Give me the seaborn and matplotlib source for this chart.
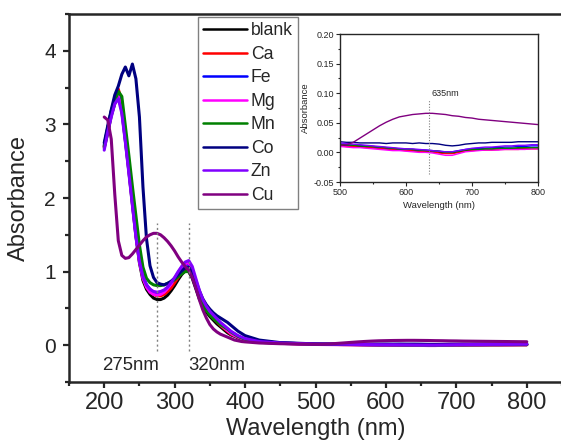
import matplotlib
matplotlib.use("Agg")
import matplotlib.pyplot as plt
from matplotlib.ticker import MultipleLocator, FormatStrFormatter
import seaborn as sns
import pandas as pd

# ---------------- data ----------------
names = ["blank", "Ca", "Fe", "Mg", "Mn", "Co", "Zn", "Cu"]
colors = ["#000000", "#FF0000", "#0000FF", "#FF00FF", "#008000", "#000080", "#8000FF", "#800080"]

wl_uv = list(range(200, 405, 5)) + [420, 450]
wl_vis = list(range(500, 810, 10))

uv_blank = [2.68, 2.88, 3.12, 3.28, 3.40, 3.18, 2.78, 2.36, 1.92, 1.48, 1.12, 0.88, 0.76, 0.69, 0.64, 0.62, 0.62, 0.64, 0.68, 0.74, 0.81, 0.89, 0.96, 1.01, 1.00, 0.91, 0.77, 0.63, 0.53, 0.45, 0.39, 0.34, 0.29, 0.25, 0.21, 0.17, 0.14, 0.12, 0.10, 0.08, 0.07, 0.04, 0.025]
uv_ca = [2.70, 2.92, 3.15, 3.30, 3.48, 3.30, 2.85, 2.42, 1.98, 1.52, 1.15, 0.92, 0.80, 0.73, 0.69, 0.67, 0.67, 0.69, 0.73, 0.78, 0.85, 0.92, 0.99, 1.04, 1.04, 0.95, 0.81, 0.67, 0.56, 0.48, 0.42, 0.37, 0.32, 0.27, 0.23, 0.19, 0.15, 0.13, 0.11, 0.09, 0.075, 0.045, 0.028]
uv_fe = [2.72, 2.95, 3.18, 3.35, 3.42, 3.25, 2.82, 2.40, 1.96, 1.52, 1.16, 0.94, 0.82, 0.76, 0.72, 0.71, 0.72, 0.74, 0.78, 0.84, 0.91, 0.98, 1.05, 1.10, 1.10, 1.01, 0.86, 0.71, 0.59, 0.51, 0.45, 0.40, 0.35, 0.30, 0.26, 0.22, 0.18, 0.15, 0.12, 0.10, 0.085, 0.05, 0.03]
uv_mg = [2.70, 2.92, 3.14, 3.30, 3.38, 3.22, 2.80, 2.38, 1.94, 1.50, 1.14, 0.91, 0.79, 0.72, 0.69, 0.68, 0.69, 0.72, 0.77, 0.83, 0.91, 0.99, 1.06, 1.11, 1.12, 1.03, 0.87, 0.71, 0.59, 0.50, 0.44, 0.38, 0.33, 0.28, 0.24, 0.20, 0.16, 0.13, 0.11, 0.09, 0.075, 0.045, 0.025]
uv_mn = [2.70, 2.95, 3.18, 3.30, 3.45, 3.38, 2.98, 2.58, 2.16, 1.76, 1.36, 1.06, 0.91, 0.85, 0.82, 0.81, 0.81, 0.82, 0.84, 0.86, 0.89, 0.93, 0.97, 1.00, 1.00, 0.93, 0.80, 0.66, 0.55, 0.47, 0.41, 0.36, 0.32, 0.28, 0.25, 0.22, 0.18, 0.15, 0.12, 0.10, 0.08, 0.05, 0.03]
uv_co = [2.75, 2.98, 3.20, 3.40, 3.52, 3.68, 3.78, 3.66, 3.82, 3.62, 3.10, 2.15, 1.45, 1.08, 0.92, 0.85, 0.83, 0.82, 0.84, 0.87, 0.91, 0.96, 1.01, 1.05, 1.06, 1.00, 0.88, 0.74, 0.63, 0.55, 0.49, 0.44, 0.40, 0.37, 0.34, 0.31, 0.27, 0.23, 0.19, 0.16, 0.13, 0.07, 0.035]
uv_zn = [2.65, 2.90, 3.10, 3.28, 3.35, 3.15, 2.76, 2.34, 1.90, 1.48, 1.14, 0.93, 0.82, 0.76, 0.73, 0.72, 0.73, 0.75, 0.79, 0.85, 0.92, 1.00, 1.07, 1.13, 1.15, 1.07, 0.91, 0.75, 0.62, 0.53, 0.46, 0.41, 0.36, 0.31, 0.27, 0.23, 0.19, 0.16, 0.13, 0.11, 0.09, 0.05, 0.03]
uv_cu = [3.10, 3.06, 2.80, 2.05, 1.42, 1.22, 1.18, 1.19, 1.24, 1.30, 1.36, 1.42, 1.47, 1.50, 1.52, 1.52, 1.50, 1.46, 1.41, 1.35, 1.28, 1.20, 1.13, 1.07, 1.02, 0.92, 0.78, 0.62, 0.48, 0.37, 0.28, 0.22, 0.18, 0.15, 0.13, 0.11, 0.09, 0.07, 0.06, 0.05, 0.045, 0.03, 0.02]

vis_blank = [0.012, 0.011, 0.010, 0.010, 0.009, 0.008, 0.007, 0.006, 0.005, 0.004, 0.004, 0.003, 0.002, 0.002, 0.001, 0.000, -0.001, -0.001, 0.001, 0.003, 0.004, 0.004, 0.005, 0.005, 0.005, 0.006, 0.006, 0.006, 0.006, 0.007, 0.007]
vis_ca = [0.011, 0.010, 0.010, 0.009, 0.008, 0.008, 0.007, 0.006, 0.005, 0.004, 0.003, 0.003, 0.002, 0.001, 0.001, -0.001, -0.002, -0.002, 0.000, 0.002, 0.003, 0.004, 0.004, 0.004, 0.005, 0.005, 0.005, 0.005, 0.006, 0.006, 0.006]
vis_fe = [0.014, 0.013, 0.012, 0.012, 0.011, 0.010, 0.009, 0.008, 0.007, 0.006, 0.006, 0.005, 0.004, 0.004, 0.003, 0.002, 0.001, 0.001, 0.003, 0.005, 0.006, 0.007, 0.007, 0.008, 0.008, 0.009, 0.009, 0.010, 0.010, 0.011, 0.011]
vis_mg = [0.010, 0.009, 0.008, 0.008, 0.007, 0.006, 0.005, 0.004, 0.003, 0.003, 0.002, 0.001, 0.000, 0.000, -0.001, -0.003, -0.005, -0.005, -0.002, 0.001, 0.002, 0.003, 0.004, 0.004, 0.004, 0.005, 0.005, 0.005, 0.005, 0.006, 0.006]
vis_mn = [0.014, 0.013, 0.012, 0.011, 0.010, 0.010, 0.009, 0.008, 0.007, 0.006, 0.006, 0.005, 0.004, 0.003, 0.003, 0.002, 0.000, 0.000, 0.002, 0.004, 0.005, 0.005, 0.006, 0.006, 0.007, 0.007, 0.007, 0.008, 0.008, 0.008, 0.008]
vis_co = [0.018, 0.017, 0.017, 0.016, 0.016, 0.016, 0.016, 0.015, 0.016, 0.016, 0.016, 0.015, 0.016, 0.015, 0.015, 0.014, 0.012, 0.011, 0.012, 0.014, 0.015, 0.016, 0.016, 0.017, 0.017, 0.017, 0.017, 0.018, 0.018, 0.018, 0.018]
vis_zn = [0.016, 0.015, 0.014, 0.013, 0.012, 0.011, 0.010, 0.009, 0.008, 0.007, 0.006, 0.006, 0.005, 0.004, 0.003, 0.002, 0.001, 0.001, 0.003, 0.005, 0.007, 0.008, 0.009, 0.009, 0.010, 0.011, 0.011, 0.012, 0.012, 0.013, 0.013]
vis_cu = [0.012, 0.013, 0.017, 0.024, 0.031, 0.038, 0.045, 0.051, 0.056, 0.060, 0.062, 0.064, 0.065, 0.066, 0.066, 0.065, 0.064, 0.062, 0.061, 0.059, 0.058, 0.056, 0.055, 0.054, 0.053, 0.052, 0.051, 0.050, 0.049, 0.048, 0.047]

uv = [uv_blank, uv_ca, uv_fe, uv_mg, uv_mn, uv_co, uv_zn, uv_cu]
vis = [vis_blank, vis_ca, vis_fe, vis_mg, vis_mn, vis_co, vis_zn, vis_cu]

peak_main = [275, 320]
peak_labels = ["275nm", "320nm"]
peak_inset = 635
peak_inset_label = "635nm"

# ---------------- build table ----------------
rows = []
for n, u, v in zip(names, uv, vis):
    assert len(u) == len(wl_uv) and len(v) == len(wl_vis), n
    for w, a in zip(wl_uv + wl_vis, u + v):
        rows.append((n, w, a))
df = pd.DataFrame(rows, columns=["series", "wl", "A"])
palette = dict(zip(names, colors))

# ---------------- style ----------------
sns.set_style("ticks")
plt.rcParams["font.family"] = ["Liberation Sans", "DejaVu Sans"]

fig = plt.figure(figsize=(5.61, 4.46), dpi=100)
ax = fig.add_axes([69 / 561, 1 - 382 / 446, (562 - 69) / 561, (382 - 14) / 446])

sns.lineplot(data=df, x="wl", y="A", hue="series", hue_order=names, palette=palette,
             estimator=None, sort=False, lw=2.2, ax=ax)

ax.set_xlim(150, 850)
ax.set_ylim(-0.5, 4.5)
ax.xaxis.set_major_locator(MultipleLocator(100))
ax.xaxis.set_minor_locator(MultipleLocator(50))
ax.yaxis.set_major_locator(MultipleLocator(1))
ax.yaxis.set_minor_locator(MultipleLocator(0.5))
ax.tick_params(which="major", direction="out", length=4.5, width=1.6)
ax.tick_params(which="minor", direction="out", length=3, width=1.6)
ax.tick_params(axis="x", which="major", labelsize=17, pad=2.5)
ax.tick_params(axis="y", which="major", labelsize=15, pad=5)
ax.tick_params(top=False, right=False, which="both")
for s in ax.spines.values():
    s.set_linewidth(1.8)
ax.set_xlabel("Wavelength (nm)", fontsize=17, labelpad=3)
ax.set_ylabel("Absorbance", fontsize=17, labelpad=10)

# dotted peak markers
ax.vlines(peak_main, -0.08, 1.66, colors="#808080", linestyles=(0, (1.5, 2)), lw=1)
ax.text(peak_main[0] + 3, -0.28, peak_labels[0], ha="right", va="center", fontsize=13.4)
ax.text(peak_main[1], -0.28, peak_labels[1], ha="left", va="center", fontsize=13.4)

# legend
handles, labels = ax.get_legend_handles_labels()
leg = ax.legend(handles, labels, loc="upper left", bbox_to_anchor=(198 / 561, 1 - 17 / 446),
                bbox_transform=fig.transFigure, fontsize=12.7, handlelength=2.45,
                handletextpad=0.25, labelspacing=0.37, borderpad=0.3, borderaxespad=0,
                fancybox=False, framealpha=1, edgecolor="#808080")
leg.get_frame().set_linewidth(1.0)
for h in leg.get_lines():
    h.set_linewidth(1.8)

# ---------------- inset ----------------
axin = fig.add_axes([340 / 561, 1 - 182 / 446, (538 - 340) / 561, (182 - 34) / 446])
sns.lineplot(data=df[df["wl"] >= 500], x="wl", y="A", hue="series", hue_order=names,
             palette=palette, estimator=None, sort=False, lw=1.0, ax=axin, legend=False)
axin.set_xlim(500, 800)
axin.set_ylim(-0.05, 0.20)
axin.xaxis.set_major_locator(MultipleLocator(100))
axin.xaxis.set_minor_locator(MultipleLocator(50))
axin.yaxis.set_major_locator(MultipleLocator(0.05))
axin.yaxis.set_minor_locator(MultipleLocator(0.025))
axin.yaxis.set_major_formatter(FormatStrFormatter("%.2f"))
axin.tick_params(which="major", direction="out", length=3, width=0.8, labelsize=6.5, pad=1.5)
axin.tick_params(which="minor", direction="out", length=1.5, width=0.8)
for s in axin.spines.values():
    s.set_linewidth(1.0)
axin.set_xlabel("Wavelength (nm)", fontsize=6.8, labelpad=3)
axin.set_ylabel("Absorbance", fontsize=6.8, labelpad=2)
axin.vlines([peak_inset], -0.0365, 0.0885, colors="#808080", linestyles=(0, (1, 1.5)), lw=0.8)
axin.text(peak_inset + 4, 0.092, peak_inset_label, ha="left", va="bottom", fontsize=6.5)

fig.savefig("out.png", dpi=100)
